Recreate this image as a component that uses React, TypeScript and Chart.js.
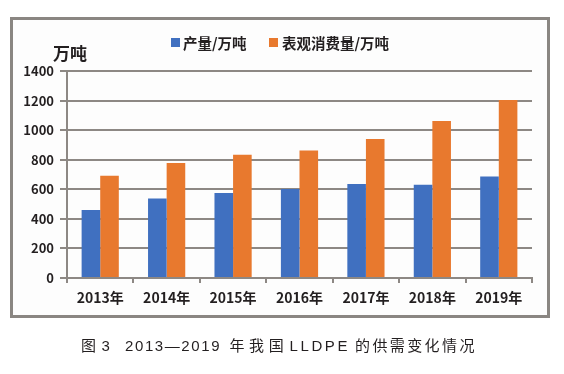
import React, { useEffect, useRef } from "react";
import { Chart, registerables } from "chart.js";

Chart.register(...registerables);

const categories = ["2013年", "2014年", "2015年", "2016年", "2017年", "2018年", "2019年"];
const production = [460, 537, 575, 602, 636, 630, 686];
const consumption = [692, 777, 834, 862, 940, 1062, 1204];
const seriesNames = ["产量/万吨", "表观消费量/万吨"];
const seriesColors = ["#4070C0", "#E8792E"];
const yMin = 0;
const yMax = 1400;
const yStep = 200;
const yUnit = "万吨";
const caption = "图 3  2013—2019 年我国 LLDPE 的供需变化情况";

const GRID = "#8d8884";
const TEXT = "#231f20";
const CJK = '"Noto Sans CJK SC", "Noto Sans", sans-serif';

// typesetting of the caption words (left edge, letter spacing)
const captionLayout = [
  { x: 81, ls: 0 },
  { x: 101.5, ls: 0 },
  { x: 125, ls: 1.6 },
  { x: 229.5, ls: 4.6 },
  { x: 289.5, ls: 2.6 },
  { x: 355, ls: 2.4 },
];

export default function App() {
  const ref = useRef<HTMLCanvasElement | null>(null);

  useEffect(() => {
    if (!ref.current) return;
    const chart = new Chart(ref.current, {
      type: "bar",
      data: {
        labels: categories,
        datasets: [
          {
            label: seriesNames[0],
            data: production,
            backgroundColor: seriesColors[0],
            borderWidth: 0,
            categoryPercentage: 0.56,
            barPercentage: 1,
          },
          {
            label: seriesNames[1],
            data: consumption,
            backgroundColor: seriesColors[1],
            borderWidth: 0,
            categoryPercentage: 0.56,
            barPercentage: 1,
          },
        ],
      },
      options: {
        responsive: false,
        animation: false,
        devicePixelRatio: 1,
        layout: { padding: { left: 11, top: 71, right: 32, bottom: 57 } },
        plugins: {
          legend: { display: false },
          tooltip: { enabled: false },
        },
        scales: {
          x: {
            offset: true,
            grid: {
              display: true,
              drawOnChartArea: false,
              drawTicks: true,
              tickLength: 5,
              color: GRID,
              lineWidth: 2,
              offset: true,
            },
            border: { color: GRID, width: 2 },
            ticks: {
              color: TEXT,
              font: { family: CJK, size: 14, weight: "bold" },
              padding: 6,
            },
            afterFit: (s: any) => {
              s.height = 39;
            },
          },
          y: {
            min: yMin,
            max: yMax,
            ticks: {
              stepSize: yStep,
              color: TEXT,
              font: { family: CJK, size: 13, weight: "bold" },
              padding: 6,
              callback: (v: any) => String(v),
            },
            grid: { color: GRID, lineWidth: 2, tickLength: 7 },
            border: { color: GRID, width: 2 },
            afterFit: (s: any) => {
              s.width = 56;
            },
          },
        },
      },
    });
    return () => chart.destroy();
  }, []);

  const legendText: React.CSSProperties = {
    position: "absolute",
    top: 35,
    fontFamily: CJK,
    fontSize: 14.5,
    fontWeight: "bold",
    lineHeight: "16px",
    color: TEXT,
    whiteSpace: "nowrap",
  };

  const words = caption.split(/\s+/);

  return (
    <div style={{ position: "absolute", left: 0, top: 0, width: 564, height: 374, background: "#fff", overflow: "hidden" }}>
      <div
        style={{
          position: "absolute",
          left: 10,
          top: 17,
          width: 540,
          height: 301,
          boxSizing: "border-box",
          border: "3px solid #8a8682",
          background: "#fdfdfd",
        }}
      />
      <canvas ref={ref} width={564} height={374} style={{ position: "absolute", left: 0, top: 0 }} />
      <div
        style={{
          position: "absolute",
          left: 53,
          top: 44,
          fontFamily: CJK,
          fontSize: 17,
          fontWeight: "bold",
          lineHeight: "18px",
          color: TEXT,
        }}
      >
        {yUnit}
      </div>
      <div style={{ position: "absolute", left: 171, top: 38, width: 9, height: 9, background: seriesColors[0] }} />
      <div style={{ ...legendText, left: 183 }}>{seriesNames[0]}</div>
      <div style={{ position: "absolute", left: 269, top: 38, width: 9, height: 9, background: seriesColors[1] }} />
      <div style={{ ...legendText, left: 282 }}>{seriesNames[1]}</div>
      {words.map((w, i) => (
        <div
          key={i}
          style={{
            position: "absolute",
            left: (captionLayout[i] || captionLayout[captionLayout.length - 1]).x,
            top: 337,
            fontFamily: '"Liberation Sans", "Noto Sans CJK SC", sans-serif',
            fontSize: 15,
            lineHeight: "17px",
            letterSpacing: (captionLayout[i] || captionLayout[captionLayout.length - 1]).ls,
            color: "#231f20",
            whiteSpace: "nowrap",
          }}
        >
          {w}
        </div>
      ))}
    </div>
  );
}
